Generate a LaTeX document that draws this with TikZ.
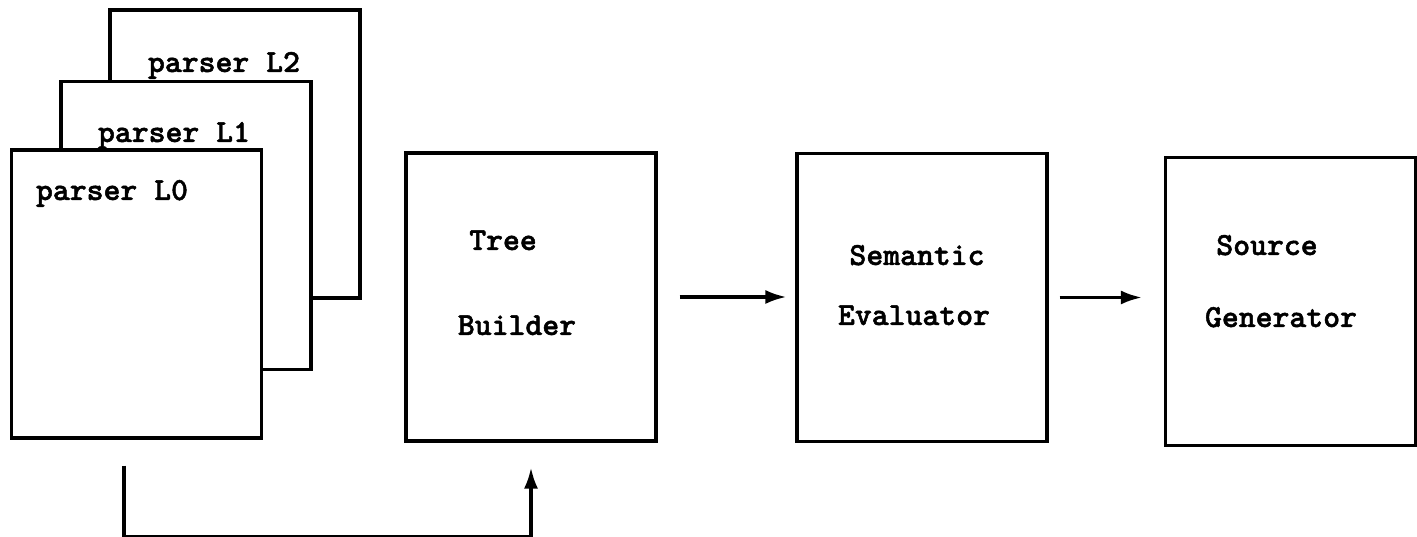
\documentclass[tikz,border=0pt]{standalone}
\usepackage{fontspec}
\newfontfamily\boxfont{lmmonolt10-bold.otf}[FakeBold=1.5]
\usetikzlibrary{arrows.meta}
\begin{document}
\begin{tikzpicture}[
  stage/.style={draw, line width=1.8pt, fill=white, inner sep=0pt,
    minimum width=5cm, minimum height=5.76cm},
  boxtext/.style={font=\fontsize{18.3}{22}\selectfont\boxfont,
    anchor=base, inner sep=0pt},
  flow/.style={line width=1.8pt, -{Latex[length=0.42cm,width=0.28cm]}}
]
\useasboundingbox (0,0) rectangle (28.34,10.74);

% stacked parsers
\node[stage] (p2) at (4.70,7.66) {};
\node[boxtext] (t2) at (4.48,9.30) {parser L2};
\node[stage] (p1) at (3.72,6.23) {};
\node[boxtext] (t1) at (3.48,7.90) {parser L1};
\node[stage] (p0) at (2.73,4.86) {};
\node[boxtext] (t0) at (2.24,6.74) {parser L0};

\node[stage] (tb) at (10.62,4.80) {};
\node[boxtext] (tree) at (10.06,5.74) {Tree};
\node[boxtext] (builder) at (10.34,4.04) {Builder};

\node[stage] (se) at (18.44,4.79) {};
\node[boxtext] (sem) at (18.34,5.44) {Semantic};
\node[boxtext] (eval) at (18.28,4.24) {Evaluator};

\node[stage] (sg) at (25.81,4.71) {};
\node[boxtext] (src) at (25.34,5.64) {Source};
\node[boxtext] (gen) at (25.62,4.20) {Generator};

\draw[flow, shorten <=0.44cm, shorten >=0.18cm] (tb.east) -- (tb.east -| se.west);
\draw[flow, shorten <=0.22cm, shorten >=0.44cm] (se.east) -- (se.east -| sg.west);
\draw[flow, shorten <=0.52cm, shorten >=0.5cm]
  ([xshift=-0.25cm]p0.south) -- ++(0,-1.94) -| (tb.south);
\end{tikzpicture}
\end{document}
